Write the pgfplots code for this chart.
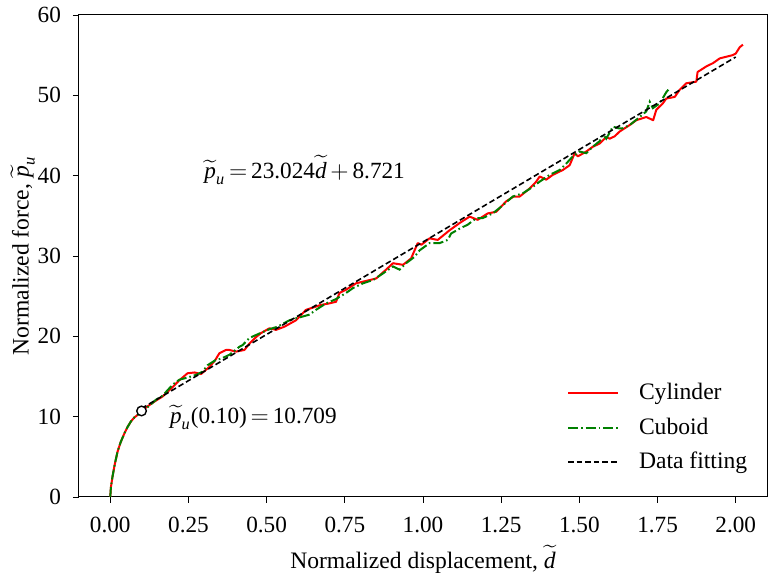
\documentclass[border=0pt]{standalone}
\usepackage{amsmath}
\usepackage{fontspec}
\setmainfont{Liberation Serif}
\usepackage{pgfplots}
\pgfplotsset{compat=1.18}
\newcommand{\tp}{\widetilde{\textit{p}}_{\textit{u}}}
\newcommand{\td}{\widetilde{\textit{d}}}
\begin{document}
\fontsize{11.6}{14}\selectfont
\begin{tikzpicture}
\begin{axis}[
  scale only axis,
  width=344pt, height=241pt,
  xmin=-0.1, xmax=2.1, ymin=0, ymax=60,
  xtick={0,0.25,0.5,0.75,1,1.25,1.5,1.75,2},
  ytick={0,10,20,30,40,50,60},
  /pgf/number format/assume math mode=true,
  xticklabel style={/pgf/number format/fixed, /pgf/number format/fixed zerofill, /pgf/number format/precision=2, yshift=-3pt},
  yticklabel style={xshift=-2pt},
  tick pos=left,
  tick align=outside,
  major tick length=3pt,
  every tick/.style={black, line width=0.45pt},
  axis line style={line width=0.5pt},
  ticklabel style={font=\fontsize{11.6}{14}\selectfont},
  label style={font=\fontsize{11.8}{14}\selectfont},
  xlabel={Normalized displacement, $\td$},
  ylabel={Normalized force, $\tp$},
  xlabel style={yshift=2pt},
  ylabel style={yshift=-6.5pt},
  legend style={draw=none, fill=none, at={(axis cs:1.44,15.2)}, anchor=north west,
    font=\fontsize{11.8}{14}\selectfont, row sep=3.3pt,
    nodes={inner xsep=4pt},
    /tikz/every odd column/.append style={column sep=6pt}},
  legend cell align=left,
  legend image code/.code={\draw[#1] (0pt,0pt) -- (25pt,0pt);},
]
\addplot[red, line width=1pt, line join=round] coordinates {
(0,0) (0.002,1.2) (0.007,2.5) (0.014,4.0) (0.023,5.6) (0.033,6.8) (0.045,7.9) (0.055,8.7) (0.066,9.4) (0.077,9.9) (0.087,10.2) (0.1,10.7)
(0.12,11.3) (0.146,12.0) (0.167,12.5) (0.2,13.7) (0.22,14.5) (0.247,15.4) (0.27,15.5) (0.29,15.3) (0.317,16.2) (0.335,17.0) (0.349,17.9)
(0.370,18.3) (0.381,18.3) (0.402,18.1) (0.429,18.3) (0.445,19.1) (0.466,19.9) (0.482,20.4) (0.509,21.0) (0.530,20.8) (0.557,21.2)
(0.594,22.0) (0.626,23.3) (0.658,23.7) (0.672,23.9) (0.701,24.1) (0.722,24.3) (0.733,25.4) (0.754,25.8) (0.786,26.6) (0.829,27.0)
(0.850,27.2) (0.882,28.3) (0.904,29.1) (0.936,28.9) (0.962,29.7) (0.983,31.6) (0.995,31.4) (1.021,32.2) (1.047,32.0) (1.085,33.2)
(1.117,34.1) (1.149,34.9) (1.175,34.5) (1.207,35.3) (1.234,35.5) (1.266,36.8) (1.290,37.4) (1.309,37.4) (1.341,38.4) (1.362,39.25)
(1.373,39.9) (1.394,39.5) (1.415,40.1) (1.447,40.7) (1.469,41.3) (1.485,42.8) (1.495,42.4) (1.522,43.0) (1.543,43.6) (1.565,44.0)
(1.586,44.8) (1.597,44.6) (1.613,44.9) (1.629,45.5) (1.645,45.9) (1.661,46.3) (1.682,46.9) (1.698,47.1) (1.714,47.3) (1.736,46.9)
(1.746,48.2) (1.767,49.0) (1.778,49.6) (1.805,49.8) (1.821,50.7) (1.842,51.5) (1.874,51.7) (1.878,52.9) (1.906,53.6) (1.927,54.0)
(1.949,54.6) (1.99,55.0) (2.0,55.2) (2.013,56.0) (2.023,56.3)
};
\addlegendentry{Cylinder}
\addplot[color={rgb,1:red,0;green,0.5;blue,0}, line width=1pt, dash pattern=on 5pt off 1.5pt on 0.8pt off 1.5pt] coordinates {
(0,0) (0.002,1.2) (0.007,2.5) (0.014,4.0) (0.023,5.6) (0.033,6.8) (0.045,7.9) (0.055,8.7) (0.066,9.4) (0.077,9.9) (0.087,10.2) (0.1,10.7)
(0.12,11.2) (0.146,12.1) (0.167,12.6) (0.2,14.0) (0.221,14.6) (0.25,14.9) (0.274,15.2) (0.295,15.6) (0.311,16.4) (0.335,17.0)
(0.359,17.3) (0.381,17.7) (0.413,18.7) (0.423,18.9) (0.445,19.8) (0.48,20.4) (0.51,20.9) (0.535,21.2) (0.573,22.0) (0.60,22.3)
(0.637,22.7) (0.658,23.3) (0.69,24.1) (0.72,24.6) (0.754,25.4) (0.776,26.0) (0.808,26.6) (0.84,27.0) (0.871,27.8) (0.904,28.7)
(0.925,28.3) (0.946,29.1) (0.973,29.9) (0.989,30.7) (1.021,31.6) (1.053,31.6) (1.079,32.0) (1.090,32.8) (1.117,33.4) (1.143,33.9)
(1.17,34.7) (1.19,34.7) (1.223,35.3) (1.255,36.3) (1.287,37.4) (1.319,37.8) (1.351,38.6) (1.373,39.25) (1.405,40.1) (1.437,40.7)
(1.458,41.5) (1.479,42.4) (1.501,43.0) (1.522,42.8) (1.543,43.6) (1.565,44.3) (1.576,45.1) (1.586,44.6) (1.607,46.1) (1.625,45.9)
(1.639,45.9) (1.661,46.3) (1.693,47.3) (1.714,48.0) (1.725,49.2) (1.735,48.4) (1.757,49.0) (1.778,50.4) (1.789,50.9)
};
\addlegendentry{Cuboid}
\addplot[black, line width=0.8pt, dash pattern=on 2.8pt off 1.5pt] coordinates {(0.1,11.0234) (2.0,54.769)};
\addlegendentry{Data fitting}
\addplot[only marks, mark=*, mark size=2.4pt, mark options={fill=white, draw=black, line width=0.7pt}, forget plot] coordinates {(0.1,10.709)};
\node[anchor=west, inner sep=0pt] at (axis cs:0.3,40.7) {$\tp$\,$=$\,23.024$\td$\,$+$\,8.721};
\node[anchor=west, inner sep=0pt] at (axis cs:0.19,9.9) {$\tp$(0.10)\,$=$\,10.709};
\end{axis}
\path (current axis.south west) ++(-39.5pt,-38pt) coordinate (bl);
\path (current axis.north east) ++(1pt,7.5pt) coordinate (tr);
\pgfresetboundingbox
\useasboundingbox (bl) rectangle (tr);
\end{tikzpicture}
\end{document}
